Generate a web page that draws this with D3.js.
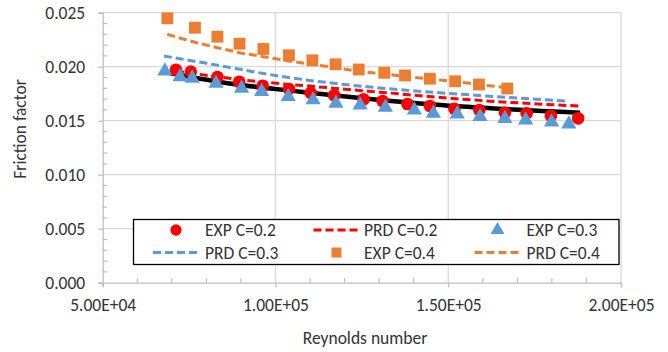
<!DOCTYPE html>
<html>
<head>
<meta charset="utf-8">
<script src="https://cdn.jsdelivr.net/npm/d3@7"></script>
<style>
  body { margin: 0; background: #fff; }
  svg { display: block; font-family: Carlito, Calibri, "Open Sans", sans-serif; }
</style>
</head>
<body>
<svg width="668" height="352"></svg>
<script>
// EXP C=0.2 (red circles)
const reExp02 = [71200, 75500, 83200, 89500, 96300, 103900, 110200, 117000, 125500, 131000, 138200, 144700, 151800, 159000, 166400, 172700, 179700, 187600];
const fExp02  = [0.01972, 0.01954, 0.01905, 0.01860, 0.01823, 0.01794, 0.01758, 0.01735, 0.01699, 0.01682, 0.01655, 0.01636, 0.01611, 0.01599, 0.01574, 0.01569, 0.01546, 0.01522];
// PRD C=0.2
const rePrd02 = [71200, 92600, 111900, 136000, 149500, 168800, 187900];
const fPrd02  = [0.01960, 0.01870, 0.01815, 0.01748, 0.01710, 0.01668, 0.01636];
// EXP C=0.3 (blue triangles)
const reExp03 = [68000, 72400, 75900, 82800, 90200, 96000, 103700, 110900, 117500, 124500, 131800, 140200, 145700, 152600, 159200, 166400, 172400, 179900, 184900];
const fExp03  = [0.01960, 0.01907, 0.01893, 0.01846, 0.01800, 0.01769, 0.01722, 0.01692, 0.01661, 0.01645, 0.01624, 0.01599, 0.01569, 0.01562, 0.01537, 0.01519, 0.01506, 0.01488, 0.01469];
// PRD C=0.3
const rePrd03 = [67700, 80100, 104200, 128200, 149500, 168800, 184700];
const fPrd03  = [0.02099, 0.02031, 0.01898, 0.01809, 0.01754, 0.01713, 0.01680];
// EXP C=0.4 (orange squares)
const reExp04 = [68700, 76700, 83200, 89600, 96500, 103900, 110700, 117400, 124100, 131500, 137500, 144700, 152000, 158900, 167100];
const fExp04  = [0.02448, 0.02361, 0.02278, 0.02213, 0.02164, 0.02106, 0.02059, 0.02022, 0.01974, 0.01944, 0.01919, 0.01889, 0.01865, 0.01835, 0.01798];
// PRD C=0.4
const rePrd04 = [68700, 76700, 83200, 89600, 96500, 103900, 110700, 117400, 124100, 131500, 137500, 144700, 152000, 158900, 167100];
const fPrd04  = [0.02300, 0.02226, 0.02176, 0.02130, 0.02093, 0.02053, 0.02022, 0.01991, 0.01957, 0.01932, 0.01910, 0.01886, 0.01863, 0.01835, 0.01807];
// black solid line (no legend entry)
const reFit = [69500, 87800, 107200, 145600, 188100];
const fFit  = [0.01940, 0.01840, 0.01769, 0.01650, 0.01574];

const xTicks = [50000, 100000, 150000, 200000];
const yTicks = [0, 0.005, 0.010, 0.015, 0.020, 0.025];
const legendNames = ['EXP C=0.2', 'PRD C=0.2', 'EXP C=0.3', 'PRD C=0.3', 'EXP C=0.4', 'PRD C=0.4'];

const red = '#ff0000', blue = '#5b9bd5', orange = '#ed7d31';
const textColor = '#333333';
const fontSize = '17.5px';

var svg = d3.select('svg');
const plotL = 102.7, plotR = 621, plotT = 12.7, plotB = 282.7;

const x = d3.scaleLinear().domain([50000, 200000]).range([plotL, plotR]);
const y = d3.scaleLinear().domain([0, 0.025]).range([plotB, plotT]);

// grid
svg.append('g').selectAll('line').data(yTicks.slice(1)).join('line')
  .attr('x1', plotL).attr('x2', plotR)
  .attr('y1', d => y(d)).attr('y2', d => y(d))
  .attr('stroke', '#d9d9d9').attr('stroke-width', 1.3);
svg.append('g').selectAll('line').data(xTicks.slice(1)).join('line')
  .attr('x1', d => x(d)).attr('x2', d => x(d))
  .attr('y1', plotT).attr('y2', plotB)
  .attr('stroke', '#d9d9d9').attr('stroke-width', 1.3);

// minor ticks (inside)
const xMinor = d3.range(60000, 200000, 10000).filter(v => v % 50000 != 0);
const yMinor = d3.range(1, 25).map(i => i / 1000).filter(v => Math.round(v * 1000) % 5 != 0);
svg.append('g').selectAll('line').data(xMinor).join('line')
  .attr('x1', d => x(d)).attr('x2', d => x(d))
  .attr('y1', plotB).attr('y2', plotB - 4.5)
  .attr('stroke', '#bfbfbf').attr('stroke-width', 1.2);
svg.append('g').selectAll('line').data(yMinor).join('line')
  .attr('x1', plotL).attr('x2', plotL + 4.5)
  .attr('y1', d => y(d)).attr('y2', d => y(d))
  .attr('stroke', '#bfbfbf').attr('stroke-width', 1.2);

// axes
const xAxis = svg.append('g').attr('transform', `translate(0,${plotB})`)
  .call(d3.axisBottom(x).tickValues(xTicks).tickSize(4.5).tickPadding(11)
    .tickFormat(d => d.toExponential(2).toUpperCase().replace('E+', 'E+0')));
const yAxis = svg.append('g').attr('transform', `translate(${plotL},0)`)
  .call(d3.axisLeft(y).tickValues(yTicks).tickSize(4.5).tickPadding(13)
    .tickFormat(d3.format('.3f')));
[xAxis, yAxis].forEach(a => {
  a.select('.domain').attr('stroke', '#bfbfbf').attr('stroke-width', 1.3);
  a.selectAll('.tick line').attr('stroke', '#bfbfbf').attr('stroke-width', 1.3);
  a.selectAll('text').attr('fill', textColor).style('font-size', fontSize)
    .style('font-family', 'Carlito, Calibri, "Open Sans", sans-serif');
});

// axis titles
svg.append('text')
  .attr('x', 365).attr('y', 344).attr('text-anchor', 'middle')
  .attr('fill', textColor).style('font-size', fontSize)
  .text('Reynolds number');
svg.append('text')
  .attr('transform', 'translate(26,129) rotate(-90)').attr('text-anchor', 'middle')
  .attr('fill', textColor).style('font-size', fontSize)
  .text('Friction factor');

const pts = (xs, ys) => xs.map((v, i) => [v, ys[i]]);
const line = d3.line().x(d => x(d[0])).y(d => y(d[1])).curve(d3.curveMonotoneX);

function drawLine(data, color, dashed, width) {
  svg.append('path').datum(data)
    .attr('d', line).attr('fill', 'none')
    .attr('stroke', color).attr('stroke-width', width)
    .attr('stroke-dasharray', dashed ? '8,4' : null);
}
function drawMarkers(data, type, color) {
  svg.append('g').selectAll('path').data(data).join('path')
    .attr('transform', d => `translate(${x(d[0])},${y(d[1])})`)
    .attr('d', d3.symbol().type(type).size(type === d3.symbolTriangle ? 100 : (type === d3.symbolSquare ? 140 : 125)))
    .attr('fill', color);
}

drawLine(pts(reFit, fFit), '#000', false, 4.5);
drawMarkers(pts(reExp02, fExp02), d3.symbolCircle, red);
drawLine(pts(rePrd02, fPrd02), red, true, 3);
drawMarkers(pts(reExp03, fExp03), d3.symbolTriangle, blue);
drawLine(pts(rePrd03, fPrd03), blue, true, 3);
drawMarkers(pts(reExp04, fExp04), d3.symbolSquare, orange);
drawLine(pts(rePrd04, fPrd04), orange, true, 3);

// legend
const lg = svg.append('g');
lg.append('rect').attr('x', 133.5).attr('y', 219.5).attr('width', 485.5).attr('height', 45)
  .attr('fill', '#fff').attr('stroke', '#000').attr('stroke-width', 1.3);
const symX = [176, 336.5, 497.5], txtX = [205, 364, 526.5], rowY = [230, 252.5];
const legendItems = [
  { kind: 'marker', type: d3.symbolCircle, color: red },
  { kind: 'line', color: red },
  { kind: 'marker', type: d3.symbolTriangle, color: blue },
  { kind: 'line', color: blue },
  { kind: 'marker', type: d3.symbolSquare, color: orange },
  { kind: 'line', color: orange }
];
legendItems.forEach((it, i) => {
  const cx = symX[i % 3], cy = rowY[Math.floor(i / 3)];
  if (it.kind === 'marker') {
    lg.append('path').attr('transform', `translate(${cx},${cy})`)
      .attr('d', d3.symbol().type(it.type).size(it.type === d3.symbolTriangle ? 85 : 100))
      .attr('fill', it.color);
  } else {
    lg.append('line').attr('x1', cx - 23).attr('x2', cx + 23).attr('y1', cy).attr('y2', cy)
      .attr('stroke', it.color).attr('stroke-width', 3).attr('stroke-dasharray', '8,4');
  }
  lg.append('text').attr('x', txtX[i % 3]).attr('y', cy).attr('dy', '0.35em')
    .attr('fill', textColor).style('font-size', fontSize)
    .text(legendNames[i]);
});
</script>
</body>
</html>
